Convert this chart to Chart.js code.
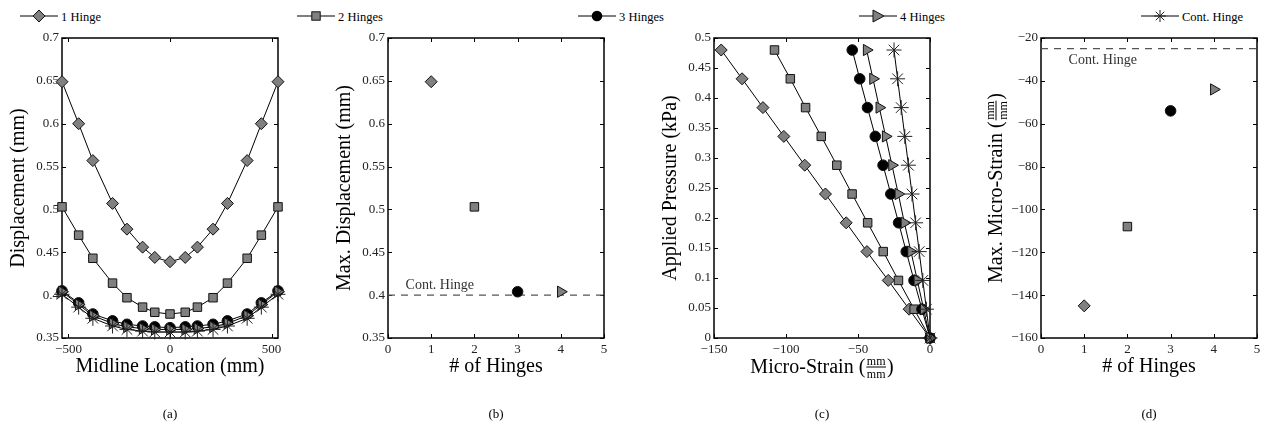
<!DOCTYPE html>
<html>
<head>
<meta charset="utf-8">
<script src="https://cdn.jsdelivr.net/npm/chart.js@4.4.0/dist/chart.umd.min.js"></script>
<style>
html, body { margin: 0; padding: 0; background: #fff; overflow: hidden; }
#wrap { position: relative; width: 1262px; height: 430px; }
canvas { position: absolute; top: 0; }
#legend { position: absolute; left: 0; top: 0; }
.sub { position: absolute; top: 406px; width: 40px; margin-left: -20px; text-align: center;
       font: 13px 'Liberation Serif', serif; color: #000; }
</style>
</head>
<body>
<div id="wrap">
  <svg id="legend" width="1262" height="32"></svg>
  <canvas id="chart_a" width="288" height="430" style="left:2px"></canvas>
  <canvas id="chart_b" width="288" height="430" style="left:328px"></canvas>
  <canvas id="chart_c" width="288" height="430" style="left:654px"></canvas>
  <canvas id="chart_d" width="288" height="430" style="left:981px"></canvas>
  <div class="sub" style="left:170px">(a)</div>
  <div class="sub" style="left:496px">(b)</div>
  <div class="sub" style="left:822px">(c)</div>
  <div class="sub" style="left:1149px">(d)</div>
</div>
<script>
// ---- data ----
var seriesNames = ['1 Hinge', '2 Hinges', '3 Hinges', '4 Hinges', 'Cont. Hinge'];

// (a) displacement along midline
var midlineX = [-532, -450, -380, -283, -212, -135, -75, 0, 75, 135, 212, 283, 380, 450, 532];
var disp1 = [0.649, 0.600, 0.557, 0.507, 0.477, 0.456, 0.444, 0.439, 0.444, 0.456, 0.477, 0.507, 0.557, 0.600, 0.649];
var disp2 = [0.503, 0.470, 0.443, 0.414, 0.397, 0.386, 0.380, 0.378, 0.380, 0.386, 0.397, 0.414, 0.443, 0.470, 0.503];
var disp3 = [0.405, 0.391, 0.378, 0.370, 0.366, 0.364, 0.363, 0.362, 0.363, 0.364, 0.366, 0.370, 0.378, 0.391, 0.405];
var disp4 = [0.404, 0.389, 0.376, 0.367, 0.363, 0.361, 0.360, 0.360, 0.360, 0.361, 0.363, 0.367, 0.376, 0.389, 0.404];
var dispC = [0.401, 0.386, 0.373, 0.364, 0.360, 0.358, 0.357, 0.357, 0.357, 0.358, 0.360, 0.364, 0.373, 0.386, 0.401];

// (b) / (d) maxima per hinge count
var hingeCount = [1, 2, 3, 4];
var maxDisp = [0.649, 0.503, 0.404, 0.404];
var contMaxDisp = 0.400;
var maxStrain = [-145, -108, -54, -44];
var contMaxStrain = -25;

// (c) pressure vs micro-strain
var pressure = [0, 0.048, 0.096, 0.144, 0.192, 0.24, 0.288, 0.336, 0.384, 0.432, 0.48];
var strain1 = [0, -14.5, -29, -43.8, -58.2, -72.6, -87, -101.5, -116, -130.5, -145];
var strain2 = [0, -11, -21.9, -32.5, -43.3, -54.1, -64.7, -75.5, -86.4, -97, -108];
var strain3 = [0, -5.6, -11.1, -16.5, -21.8, -27.2, -32.6, -38, -43.4, -48.8, -54];
var strain4 = [0, -4.4, -8.8, -13.2, -17.8, -22, -26.4, -30.8, -35.2, -39.6, -44];
var strainC = [0, -2.5, -5, -7.5, -10, -12.5, -15, -17.5, -20, -22.5, -25];

// tick labels
var ticksMidline = [-500, 0, 500];
var ticksDisp = [0.35, 0.4, 0.45, 0.5, 0.55, 0.6, 0.65, 0.7];
var ticksHinges = [0, 1, 2, 3, 4, 5];
var ticksStrain = [-150, -100, -50, 0];
var ticksPressure = [0, 0.05, 0.1, 0.15, 0.2, 0.25, 0.3, 0.35, 0.4, 0.45, 0.5];
var ticksMaxStrain = [-160, -140, -120, -100, -80, -60, -40, -20];

// ---- styles ----
var SERIF = "'Liberation Serif', 'Times New Roman', serif";
var GRAY = '#808080';
var markers = [
    { pointStyle: 'rectRot', pointRadius: 6, pointBackgroundColor: GRAY },
    { pointStyle: 'rect', pointRadius: 6, pointBackgroundColor: GRAY },
    { pointStyle: 'circle', pointRadius: 5.3, pointBackgroundColor: '#000' },
    { pointStyle: 'triangle', pointRadius: 6.5, pointBackgroundColor: GRAY, pointRotation: 90 },
    { pointStyle: 'star', pointRadius: 7.5, pointBackgroundColor: '#000' }
];

function series(i, xs, ys, showLine) {
    return Object.assign({
        label: seriesNames[i],
        data: xs.map(function (v, k) { return { x: v, y: ys[k] }; }),
        showLine: showLine,
        borderColor: '#000',
        borderWidth: 1,
        pointBorderColor: i === 4 ? '#222' : '#111',
        pointBorderWidth: 1,
        tension: 0,
        clip: false,
        order: 10 - i
    }, markers[i]);
}

function dashed(y) {
    return {
        label: 'Cont. Hinge (ref)',
        data: [{ x: 0, y: y }, { x: 5, y: y }],
        borderColor: '#555',
        borderWidth: 1.3,
        borderDash: [7, 6],
        pointRadius: 0,
        order: 20
    };
}

function fmt(v) {
    return String(+v.toFixed(3)).replace('-', '\u2212');
}

function axis(dir, min, max, tickVals, title) {
    return {
        type: 'linear',
        min: min,
        max: max,
        grid: { display: false, drawTicks: false },
        border: { display: false },
        afterBuildTicks: function (s) { s.ticks = tickVals.map(function (v) { return { value: v }; }); },
        afterFit: function (s) { if (dir === 'x') s.height = 45; else s.width = 60; },
        ticks: {
            padding: dir === 'x' ? 4 : 3,
            color: '#222',
            autoSkip: false,
            maxRotation: 0,
            font: { family: SERIF, size: 13 },
            callback: function (v) { return fmt(v); }
        },
        title: {
            display: !!title,
            text: title || '',
            color: '#000',
            font: { family: SERIF, size: 20 },
            padding: dir === 'x' ? { top: 0, bottom: 4 } : { top: 5, bottom: 0 }
        }
    };
}

// title with a stacked mm/mm fraction
function fracTitle(ctx, lead, cx, cy, rotate) {
    ctx.save();
    ctx.translate(cx, cy);
    if (rotate) ctx.rotate(-Math.PI / 2);
    ctx.fillStyle = '#000';
    var big = '20px ' + SERIF, small = '12px ' + SERIF;
    ctx.font = big;
    var w1 = ctx.measureText(lead).width;
    var w3 = ctx.measureText(')').width;
    ctx.font = small;
    var wf = ctx.measureText('mm').width + 3;
    var xx = -(w1 + wf + w3) / 2;
    ctx.font = big;
    ctx.textAlign = 'left';
    ctx.textBaseline = 'middle';
    ctx.fillText(lead, xx, 0);
    xx += w1;
    ctx.font = small;
    ctx.textAlign = 'center';
    ctx.textBaseline = 'alphabetic';
    ctx.fillText('mm', xx + wf / 2, -3);
    ctx.fillText('mm', xx + wf / 2, 10);
    ctx.fillRect(xx + 1, -1.5, wf - 2, 1);
    xx += wf;
    ctx.font = big;
    ctx.textAlign = 'left';
    ctx.textBaseline = 'middle';
    ctx.fillText(')', xx, 0);
    ctx.restore();
}

// box, inward ticks, notes
var matlabAxes = {
    id: 'matlabAxes',
    beforeDatasetsDraw: function (chart) {
        var ctx = chart.ctx, a = chart.chartArea, x = chart.scales.x, y = chart.scales.y;
        ctx.save();
        ctx.strokeStyle = '#000';
        ctx.lineWidth = 1;
        ctx.beginPath();
        x.ticks.forEach(function (t) {
            var px = Math.round(x.getPixelForValue(t.value)) + 0.5;
            ctx.moveTo(px, a.bottom); ctx.lineTo(px, a.bottom - 4);
            ctx.moveTo(px, a.top); ctx.lineTo(px, a.top + 4);
        });
        y.ticks.forEach(function (t) {
            var py = Math.round(y.getPixelForValue(t.value)) + 0.5;
            ctx.moveTo(a.left, py); ctx.lineTo(a.left + 4, py);
            ctx.moveTo(a.right, py); ctx.lineTo(a.right - 4, py);
        });
        ctx.stroke();
        ctx.lineWidth = 1.5;
        ctx.strokeRect(a.left, a.top, a.right - a.left, a.bottom - a.top);
        ctx.restore();
    },
    afterDraw: function (chart, args, opts) {
        var ctx = chart.ctx, a = chart.chartArea, x = chart.scales.x, y = chart.scales.y;
        if (opts.note) {
            ctx.save();
            ctx.font = '14px ' + SERIF;
            ctx.fillStyle = '#333';
            ctx.textAlign = 'center';
            ctx.textBaseline = 'middle';
            ctx.fillText(opts.note.text, x.getPixelForValue(opts.note.x), y.getPixelForValue(opts.note.y));
            ctx.restore();
        }
        if (opts.fracX) fracTitle(ctx, opts.fracX, (a.left + a.right) / 2, a.bottom + 30, false);
        if (opts.fracY) fracTitle(ctx, opts.fracY, a.left - 44, (a.top + a.bottom) / 2, true);
    }
};
Chart.register(matlabAxes);

function makeChart(id, datasets, xAxis, yAxis, extra) {
    return new Chart(document.getElementById(id), {
        type: 'line',
        data: { datasets: datasets },
        options: {
            responsive: false,
            animation: false,
            events: [],
            devicePixelRatio: 1,
            layout: { padding: { left: 0, right: 12, top: 38, bottom: 47 } },
            plugins: {
                legend: { display: false },
                tooltip: { enabled: false },
                matlabAxes: extra || {}
            },
            scales: { x: xAxis, y: yAxis }
        }
    });
}

// (a)
makeChart('chart_a', [
    series(0, midlineX, disp1, true),
    series(1, midlineX, disp2, true),
    series(2, midlineX, disp3, true),
    series(3, midlineX, disp4, true),
    series(4, midlineX, dispC, true)
], axis('x', -532, 532, ticksMidline, 'Midline Location (mm)'),
   axis('y', 0.35, 0.7, ticksDisp, 'Displacement (mm)'));

// (b)
makeChart('chart_b', [
    dashed(contMaxDisp),
    series(0, [hingeCount[0]], [maxDisp[0]], false),
    series(1, [hingeCount[1]], [maxDisp[1]], false),
    series(2, [hingeCount[2]], [maxDisp[2]], false),
    series(3, [hingeCount[3]], [maxDisp[3]], false)
], axis('x', 0, 5, ticksHinges, '# of Hinges'),
   axis('y', 0.35, 0.7, ticksDisp, 'Max. Displacement (mm)'),
   { note: { text: 'Cont. Hinge', x: 1.2, y: 0.412 } });

// (c)
makeChart('chart_c', [
    series(0, strain1, pressure, true),
    series(1, strain2, pressure, true),
    series(2, strain3, pressure, true),
    series(3, strain4, pressure, true),
    series(4, strainC, pressure, true)
], axis('x', -150, 0, ticksStrain, ''),
   axis('y', 0, 0.5, ticksPressure, 'Applied Pressure (kPa)'),
   { fracX: 'Micro-Strain (' });

// (d)
makeChart('chart_d', [
    dashed(contMaxStrain),
    series(0, [hingeCount[0]], [maxStrain[0]], false),
    series(1, [hingeCount[1]], [maxStrain[1]], false),
    series(2, [hingeCount[2]], [maxStrain[2]], false),
    series(3, [hingeCount[3]], [maxStrain[3]], false)
], axis('x', 0, 5, ticksHinges, '# of Hinges'),
   axis('y', -160, -20, ticksMaxStrain, ''),
   { note: { text: 'Cont. Hinge', x: 1.43, y: -30.3 }, fracY: 'Max. Micro-Strain (' });

// shared legend across the top
(function () {
    var svg = document.getElementById('legend');
    var starts = [20, 297, 578, 859, 1141];
    var cy = 16, html = '';
    seriesNames.forEach(function (name, i) {
        var x0 = starts[i], cx = x0 + 19;
        html += '<line x1="' + x0 + '" y1="' + cy + '" x2="' + (x0 + 38) + '" y2="' + cy + '" stroke="#000" stroke-width="1"/>';
        if (i === 0) html += '<polygon points="' + cx + ',' + (cy - 6) + ' ' + (cx + 6) + ',' + cy + ' ' + cx + ',' + (cy + 6) + ' ' + (cx - 6) + ',' + cy + '" fill="' + GRAY + '" stroke="#111"/>';
        if (i === 1) html += '<rect x="' + (cx - 4.2) + '" y="' + (cy - 4.2) + '" width="8.4" height="8.4" fill="' + GRAY + '" stroke="#111"/>';
        if (i === 2) html += '<circle cx="' + cx + '" cy="' + cy + '" r="5.3" fill="#000"/>';
        if (i === 3) html += '<polygon points="' + (cx - 5) + ',' + (cy - 6) + ' ' + (cx + 6) + ',' + cy + ' ' + (cx - 5) + ',' + (cy + 6) + '" fill="' + GRAY + '" stroke="#111"/>';
        if (i === 4) {
            html += '<path d="M' + (cx - 6) + ' ' + cy + 'H' + (cx + 6) + 'M' + cx + ' ' + (cy - 6) + 'V' + (cy + 6) +
                'M' + (cx - 4.2) + ' ' + (cy - 4.2) + 'L' + (cx + 4.2) + ' ' + (cy + 4.2) +
                'M' + (cx - 4.2) + ' ' + (cy + 4.2) + 'L' + (cx + 4.2) + ' ' + (cy - 4.2) + '" stroke="#222" stroke-width="1" fill="none"/>';
        }
        html += '<text x="' + (x0 + 41) + '" y="' + (cy + 4.5) + '" font-family="Liberation Serif, serif" font-size="12.5" fill="#000">' + name + '</text>';
    });
    svg.innerHTML = html;
})();
</script>
</body>
</html>
